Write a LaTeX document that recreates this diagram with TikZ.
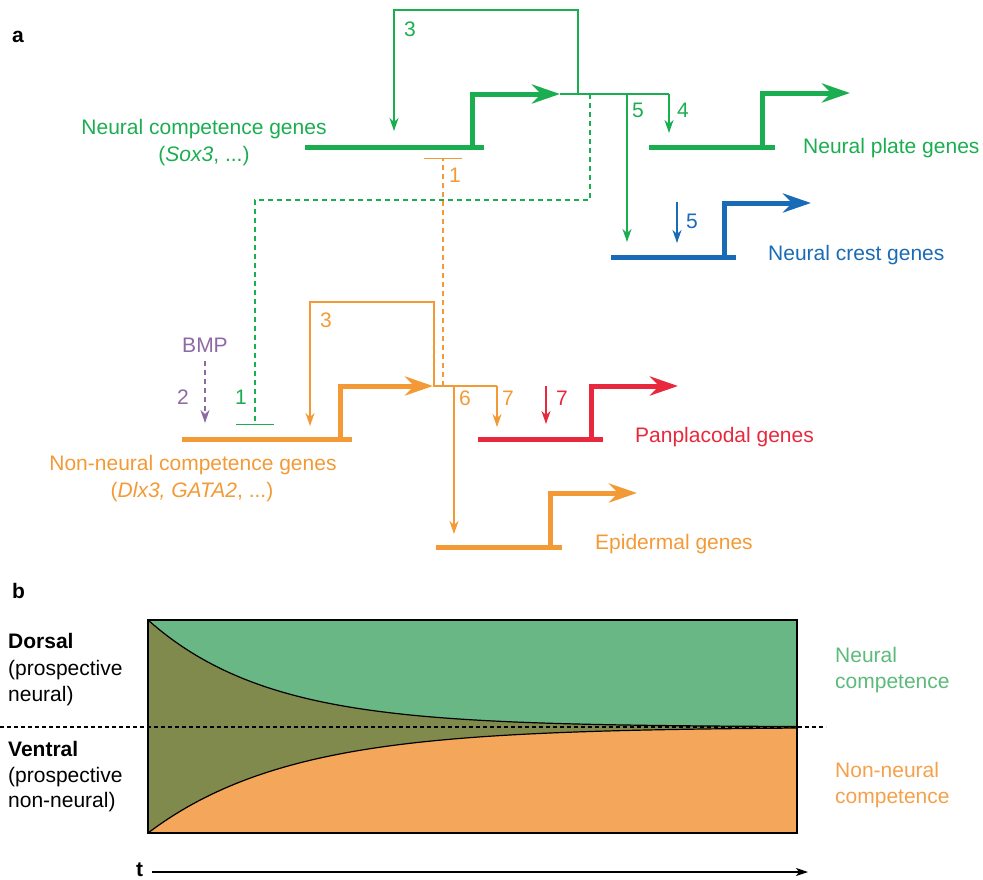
\documentclass[tikz,border=0pt]{standalone}
\usepackage{fontspec}
\setmainfont{Liberation Sans}
\usetikzlibrary{arrows.meta}

\definecolor{ngreen}{RGB}{27,174,80}
\definecolor{norange}{RGB}{243,154,55}
\definecolor{nblue}{RGB}{26,107,181}
\definecolor{nred}{RGB}{232,40,60}
\definecolor{bmpviolet}{RGB}{142,106,165}
\definecolor{areagreen}{RGB}{104,183,132}
\definecolor{areaorange}{RGB}{244,166,91}
\definecolor{areaolive}{RGB}{128,138,77}
\definecolor{txtgreen}{RGB}{92,186,122}
\definecolor{txtorange}{RGB}{245,160,74}

\tikzset{
  gene/.style={line width=5pt},
  promoter/.style={line width=5pt, -{Stealth[length=28pt, width=19pt, inset=9pt]}},
  link/.style={line width=1.4pt},
  act/.style={line width=1.4pt, -{Stealth[length=13pt, width=9pt, inset=4pt]}},
  block/.style={line width=1.4pt, dash pattern=on 5pt off 4pt, -{Bar[width=38pt, line width=1.4pt]}},
  lbl/.style={font=\fontsize{21}{25}\selectfont, inner sep=0pt},
  panel/.style={font=\fontsize{21}{25}\selectfont\bfseries, inner sep=0pt},
}

\begin{document}
\begin{tikzpicture}[x=1pt, y=-1pt]
    \useasboundingbox (0,0) rectangle (983,879);

    % Panel labels
    \node[panel, anchor=base west] (la) at (12,42) {a};
    \node[panel, anchor=base west] (lb) at (12,598) {b};

    % Neural competence genes
    \coordinate (ncTip) at (560,94);
    \draw[gene, ngreen] (305,147) -- (484,147);
    \draw[promoter, ngreen] (472,147) |- (ncTip);
    \draw[link, ngreen] (ncTip) -- (669,94);
    \draw[act, ngreen] (669,94) -- (669,133);
    \draw[act, ngreen] (578,94) |- (394,10) -- (394,131);
    \draw[act, ngreen] (627,94) -- (627,242);
    \draw[block, ngreen] (590,94) -- (590,200) -| (255,425);
    \node[lbl, ngreen] (ncname) at (204,129) {Neural competence genes};
    \node[lbl, ngreen] (ncex) at (204,156) {(\textit{Sox3}, ...)};
    \node[lbl, ngreen, anchor=base west] (n3g) at (404,36) {3};
    \node[lbl, ngreen, anchor=base west] (n5g) at (632,117) {5};
    \node[lbl, ngreen, anchor=base west] (n4g) at (677,117) {4};
    \node[lbl, ngreen, anchor=base west] (n1g) at (235,404) {1};

    % Neural plate genes
    \draw[gene, ngreen] (649,147) -- (775,147);
    \draw[promoter, ngreen] (762,147) |- (850,93);
    \node[lbl, ngreen, anchor=base west] (npname) at (803,153) {Neural plate genes};

    % Neural crest genes
    \draw[gene, nblue] (611,257) -- (736,257);
    \draw[promoter, nblue] (724,257) |- (811,203);
    \draw[act, nblue] (677,202) -- (677,243);
    \node[lbl, nblue, anchor=base west] (n5b) at (686,228) {5};
    \node[lbl, nblue, anchor=base west] (ncrname) at (768,260) {Neural crest genes};

    % Non-neural competence genes
    \coordinate (nnTip) at (433,386);
    \draw[gene, norange] (182,439) -- (352,439);
    \draw[promoter, norange] (340,439) |- (nnTip);
    \draw[link, norange] (nnTip) -- (497,386);
    \draw[act, norange] (497,386) -- (497,427);
    \draw[act, norange] (434,386) |- (310,302) -- (310,426);
    \draw[act, norange] (454,386) -- (454,534);
    \draw[block, norange] (443,386) -- (443,158);
    \node[lbl, norange, anchor=base] (nnname) at (193,470) {Non-neural competence genes};
    \node[lbl, norange, anchor=base] (nnex) at (192,497) {(\textit{Dlx3, GATA2}, ...)};
    \node[lbl, norange, anchor=base west] (n3o) at (320,327) {3};
    \node[lbl, norange, anchor=base west] (n6o) at (459,405) {6};
    \node[lbl, norange, anchor=base west] (n7o) at (502,405) {7};
    \node[lbl, norange, anchor=base west] (n1o) at (449,182) {1};

    % BMP
    \node[lbl, bmpviolet, anchor=base] (bmp) at (205,352) {BMP};
    \draw[act, bmpviolet, dash pattern=on 5pt off 4pt] (205,361) -- (205,423);
    \node[lbl, bmpviolet, anchor=base west] (n2) at (177,404) {2};

    % Panplacodal genes
    \draw[gene, nred] (478,439) -- (603,439);
    \draw[promoter, nred] (591,439) |- (678,386);
    \draw[act, nred] (546,386) -- (546,424);
    \node[lbl, nred, anchor=base west] (n7r) at (556,405) {7};
    \node[lbl, nred, anchor=base west] (ppname) at (635,442) {Panplacodal genes};

    % Epidermal genes
    \draw[gene, norange] (436,547) -- (562,547);
    \draw[promoter, norange] (550,547) |- (637,493);
    \node[lbl, norange, anchor=base west] (epname) at (595,549) {Epidermal genes};

    % Competence over time
    \fill[areagreen] (148,620) rectangle (797,727);
    \fill[areaorange] (148,727) rectangle (797,833);
    \fill[areaolive] plot[domain=0:649, samples=120] ({148+\x},{727-107*exp(-\x/120)})
        -- plot[domain=649:0, samples=120] ({148+\x},{727+106*exp(-\x/140)}) -- cycle;
    \draw[line width=1.2pt] plot[domain=0:649, samples=120] ({148+\x},{727-107*exp(-\x/120)});
    \draw[line width=1.2pt] plot[domain=0:649, samples=120] ({148+\x},{727+106*exp(-\x/140)});
    \draw[line width=1.5pt] (148,620) rectangle (797,833);
    \draw[line width=1.2pt, dash pattern=on 4pt off 3pt] (0,727) -- (826,727);

    \node[lbl, font=\fontsize{21}{25}\selectfont\bfseries, anchor=base west] (dors) at (8,648) {Dorsal};
    \node[lbl, anchor=base west] (dors1) at (8,675) {(prospective};
    \node[lbl, anchor=base west] (dors2) at (8,701) {neural)};
    \node[lbl, font=\fontsize{21}{25}\selectfont\bfseries, anchor=base west] (vent) at (8,756) {Ventral};
    \node[lbl, anchor=base west] (vent1) at (8,782) {(prospective};
    \node[lbl, anchor=base west] (vent2) at (8,807) {non-neural)};
    \node[lbl, txtgreen, anchor=base west] (ncomp1) at (835,662) {Neural};
    \node[lbl, txtgreen, anchor=base west] (ncomp2) at (835,688) {competence};
    \node[lbl, txtorange, anchor=base west] (nncomp1) at (835,777) {Non-neural};
    \node[lbl, txtorange, anchor=base west] (nncomp2) at (835,803) {competence};

    % Time axis
    \node[lbl, font=\fontsize{21}{25}\selectfont\bfseries, anchor=base west] (tlbl) at (136,876) {t};
    \draw[line width=1.2pt, -{Stealth[length=12pt, width=8pt, inset=3pt]}] (152,872) coordinate (tstart) -- (808,872);
\end{tikzpicture}
\end{document}
